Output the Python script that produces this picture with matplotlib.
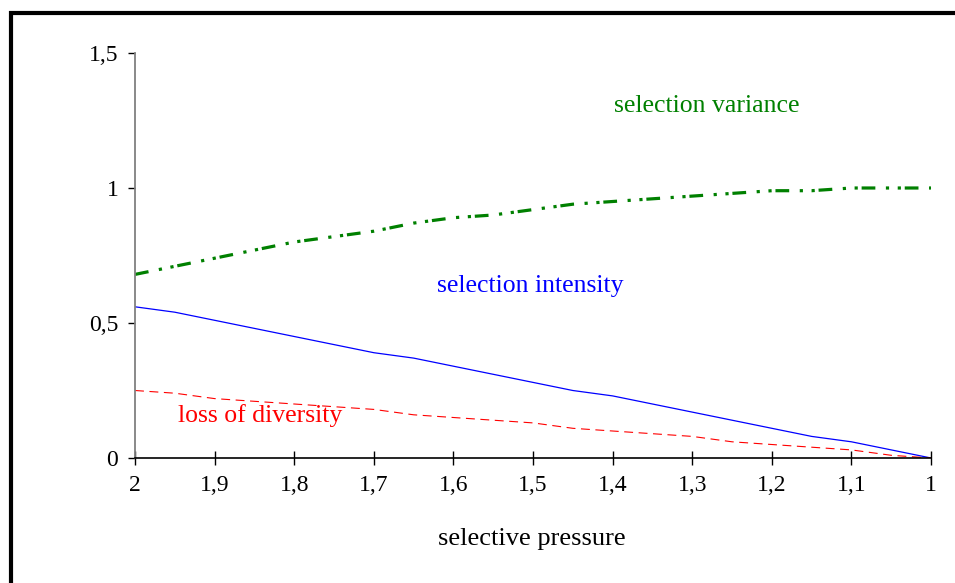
import matplotlib
matplotlib.use('Agg')
import matplotlib.pyplot as plt
import matplotlib.patches as patches

plt.rcParams['font.family'] = ['Liberation Serif', 'DejaVu Serif']
tick_fs = 17
label_fs = 18.5

pressure = [2.0, 1.95, 1.9, 1.85, 1.8, 1.75, 1.7, 1.65, 1.6, 1.55, 1.5,
            1.45, 1.4, 1.35, 1.3, 1.25, 1.2, 1.15, 1.1, 1.05, 1.0]
sel_variance = [0.68, 0.71, 0.74, 0.77, 0.80, 0.82, 0.84, 0.87, 0.89, 0.90, 0.92,
                0.94, 0.95, 0.96, 0.97, 0.98, 0.99, 0.99, 1.00, 1.00, 1.00]
sel_intensity = [0.56, 0.54, 0.51, 0.48, 0.45, 0.42, 0.39, 0.37, 0.34, 0.31, 0.28,
                 0.25, 0.23, 0.20, 0.17, 0.14, 0.11, 0.08, 0.06, 0.03, 0.0]
loss_diversity = [0.25, 0.24, 0.22, 0.21, 0.20, 0.19, 0.18, 0.16, 0.15, 0.14, 0.13,
                  0.11, 0.10, 0.09, 0.08, 0.06, 0.05, 0.04, 0.03, 0.01, 0.0]
xticks = [2.0, 1.9, 1.8, 1.7, 1.6, 1.5, 1.4, 1.3, 1.2, 1.1, 1.0]
yticks = [0, 0.5, 1, 1.5]

fig = plt.figure(figsize=(9.55, 5.83), dpi=100)
ax = fig.add_axes([0.1414, 0.2144, 0.8335, 0.6947])

# green dash-dot-dot
ax.plot(pressure, sel_variance, color='#008000', linewidth=2.3,
        dashes=(4.3, 3.3, 1, 2.7, 1, 1.2), solid_capstyle='butt')
ax.plot(pressure, sel_intensity, color='#0000FF', linewidth=0.9)
ax.plot(pressure, loss_diversity, color='#FF0000', linewidth=0.8, dashes=(8, 5))

ax.set_xlim(2, 1)
ax.set_ylim(0, 1.5)
ax.set_xticks(xticks)
ax.set_xticklabels([f'{v:g}'.replace('.', ',') for v in xticks], fontsize=tick_fs)
ax.set_yticks(yticks)
ax.set_yticklabels([f'{v:g}'.replace('.', ',') for v in yticks], fontsize=tick_fs)
ax.tick_params(axis='x', direction='inout', length=10, width=1, pad=7, colors='black')
ax.tick_params(axis='y', direction='out', length=5, width=1, pad=7, colors='black')

for s in ['top', 'right']:
    ax.spines[s].set_visible(False)
ax.spines['left'].set_color('#808080')
ax.spines['left'].set_linewidth(1.3)
ax.spines['bottom'].set_color('black')
ax.spines['bottom'].set_linewidth(1.2)

ax.text(1.398, 1.281, 'selection variance', color='#008000', fontsize=label_fs, va='baseline')
ax.text(1.621, 0.615, 'selection intensity', color='#0000FF', fontsize=label_fs, va='baseline')
ax.text(1.946, 0.133, 'loss of diversity', color='#FF0000', fontsize=label_fs, va='baseline')

fig.text(532 / 955, 1 - 545 / 583, 'selective pressure', ha='center', va='baseline',
         fontsize=19)

# frame around the chart (cut at right and bottom)
frame = patches.Rectangle((11 / 955, -0.1), 1.2, 1 - 13 / 583 + 0.1,
                          transform=fig.transFigure, fill=False,
                          edgecolor='black', linewidth=3, clip_on=False)
fig.add_artist(frame)

fig.savefig('out.png', dpi=100)
